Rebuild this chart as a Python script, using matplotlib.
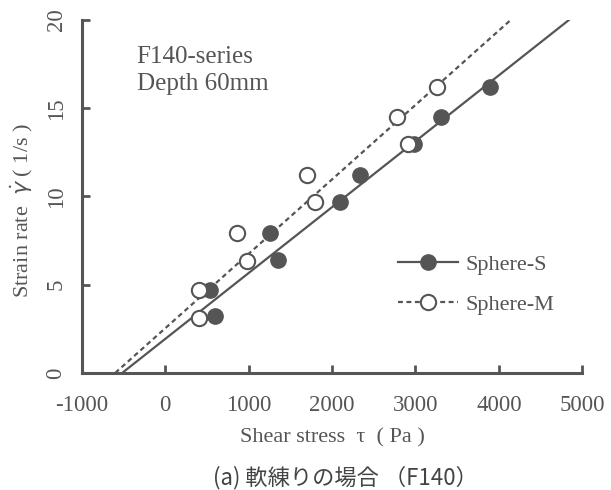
import matplotlib

matplotlib.use("Agg")
import matplotlib.pyplot as plt  # noqa: E402

# Sphere-S (filled markers, solid fit line)
s_tau = [540, 600, 1260, 1356, 2100, 2340, 2980, 3310, 3890]
s_rate = [4.7, 3.2, 7.95, 6.4, 9.7, 11.2, 12.95, 14.5, 16.2]
s_fit_tau = [-516, 4838]
s_fit_rate = [0, 20]

# Sphere-M (open markers, dotted fit line)
m_tau = [408, 408, 864, 984, 1705, 1800, 2773, 2905, 3253]
m_rate = [4.7, 3.1, 7.95, 6.36, 11.2, 9.66, 14.5, 12.95, 16.2]
m_fit_tau = [-600, 4140]
m_fit_rate = [0, 20]

x_ticks = [-1000, 0, 1000, 2000, 3000, 4000, 5000]
y_ticks = [0, 5, 10, 15, 20]

ink = "#555555"
serif = ["Liberation Serif", "DejaVu Serif"]
dotted = (0, (2.2, 1.6))

fig = plt.figure(figsize=(6.11, 4.90), dpi=100)
ax = fig.add_axes([0.134, 0.239, 0.819, 0.72])

ax.plot(s_fit_tau, s_fit_rate, color=ink, lw=1.6, ls="-", zorder=2)
ax.plot(m_fit_tau, m_fit_rate, color=ink, lw=1.6, ls=dotted, zorder=2)
ax.plot(s_tau, s_rate, "o", ms=11, mfc=ink, mec=ink, zorder=3)
ax.plot(m_tau, m_rate, "o", ms=11, mfc="white", mec=ink, mew=1.5, zorder=4)

# legend samples drawn as proxies
ax.plot([], [], color=ink, lw=1.6, marker="o", ms=11, mfc=ink, mec=ink, label="Sphere-S")
ax.plot([], [], color=ink, lw=1.6, ls=dotted, marker="o", ms=11,
        mfc="white", mec=ink, mew=1.5, label="Sphere-M")
leg = ax.legend(loc="center left", bbox_to_anchor=(0.592, 0.25), frameon=False,
                prop={"family": serif, "size": 16}, handlelength=2.7,
                labelspacing=0.85, handletextpad=0.35)
for t in leg.get_texts():
    t.set_color(ink)

ax.text(-345, 18.55, "F140-series\nDepth 60mm", fontsize=18, family=serif,
        color=ink, va="top", linespacing=1.3)

ax.set_xlim(-1000, 5000)
ax.set_ylim(0, 20)
ax.set_xticks(x_ticks)
ax.set_yticks(y_ticks)
ax.set_xticklabels([str(v) for v in x_ticks], family=serif, fontsize=16.5, color=ink)
ax.set_yticklabels([str(v) for v in y_ticks], family=serif, fontsize=16.5, color=ink,
                   rotation=90, va="center")
ax.tick_params(direction="in", length=6, width=2, color=ink)
ax.tick_params(axis="x", pad=16)
ax.tick_params(axis="y", pad=11)
for side in ("top", "right"):
    ax.spines[side].set_visible(False)
for side in ("left", "bottom"):
    ax.spines[side].set_color(ink)
    ax.spines[side].set_linewidth(2.2)

ax.set_xlabel("Shear stress  τ  ( Pa )", family=serif, fontsize=16, color=ink)
ax.set_ylabel("Strain rate  $\\dot{\\gamma}$ ( 1/s )", family=serif, fontsize=16,
              color=ink, va="center")
ax.xaxis.set_label_coords(0.5, -0.157)
ax.yaxis.set_label_coords(-0.12, 0.46)

fig.text(0.565, 0.025, "(a) 軟練りの場合 （F140）", ha="center", va="center",
         fontsize=16, color="#444444", family=["Noto Sans CJK JP", "DejaVu Sans"])

fig.savefig("out.png", dpi=100)
